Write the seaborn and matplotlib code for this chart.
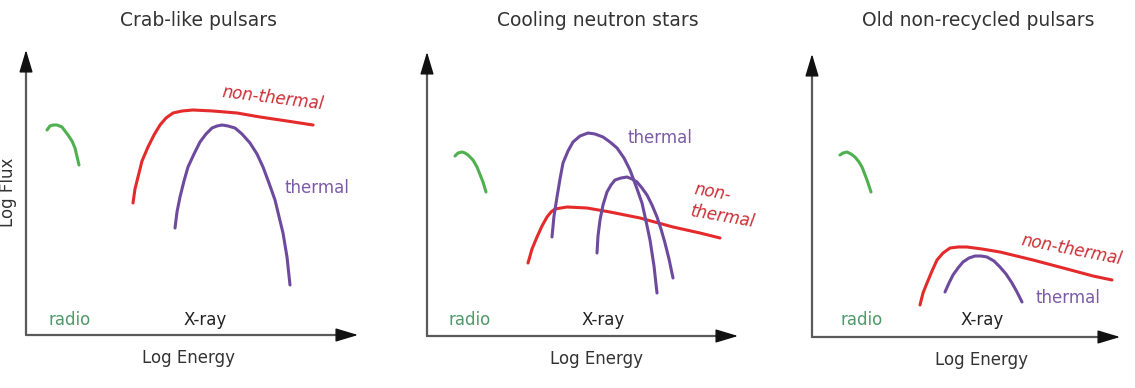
import matplotlib
matplotlib.use("Agg")
import matplotlib.pyplot as plt
import seaborn as sns

sns.set_style("white")
plt.rcParams['font.family'] = ['DejaVu Sans']

# curve points, in pixel units measured from each panel's axis origin
green1_x = [21, 24, 27, 31, 36, 42, 46, 49, 53]
green1_y = [205, 209, 210, 210, 208, 200, 194, 187, 170]
red1_x = [107, 109, 112, 116, 122, 128, 134, 140, 147, 156, 167, 187, 211, 234, 261, 287]
red1_y = [132, 146, 158, 174, 188, 200, 210, 217, 222, 224, 225, 224, 222, 218, 214, 210]
purple1_x = [149, 151, 154, 158, 162, 168, 174, 180, 186, 191, 196, 202, 209, 216, 224, 231, 237, 243, 249, 257, 261, 264]
purple1_y = [107, 123, 138, 154, 168, 181, 193, 201, 207, 209, 210, 209, 207, 201, 192, 181, 168, 152, 135, 102, 78, 50]

green2_x = [28, 31, 35, 38, 41, 46, 50, 56, 59]
green2_y = [180, 183, 184, 183, 181, 176, 169, 154, 144]
red2_x = [101, 105, 110, 115, 120, 124, 128, 134, 140, 160, 183, 213, 246, 273, 293]
red2_y = [73, 87, 99, 110, 119, 124, 127, 128, 129, 128, 124, 118, 109, 103, 98]
purple2a_x = [125, 127, 130, 133, 136, 141, 146, 153, 161, 168, 176, 183, 190, 197, 203, 209, 215, 219, 223, 227, 230]
purple2a_y = [99, 120, 139, 157, 173, 185, 194, 200, 203, 202, 199, 194, 188, 178, 166, 150, 133, 115, 96, 70, 43]
purple2b_x = [170, 171, 173, 176, 180, 184, 188, 194, 200, 205, 210, 215, 220, 225, 230, 234, 238, 242, 246]
purple2b_y = [83, 100, 116, 131, 144, 151, 156, 158, 159, 157, 154, 148, 141, 131, 119, 107, 93, 77, 58]

green3_x = [28, 31, 35, 39, 43, 47, 50, 55, 59]
green3_y = [182, 184, 185, 183, 180, 175, 170, 157, 145]
red3_x = [108, 111, 115, 120, 125, 131, 138, 146, 155, 170, 188, 221, 255, 281, 300]
red3_y = [32, 44, 54, 66, 77, 84, 89, 90, 90, 88, 85, 77, 68, 61, 57]
purple3_x = [133, 137, 141, 146, 151, 157, 163, 169, 175, 182, 188, 194, 200, 205, 210]
purple3_y = [45, 54, 62, 69, 75, 79, 81, 81, 80, 76, 70, 63, 54, 45, 35]

titles = ["Crab-like pulsars", "Cooling neutron stars", "Old non-recycled pulsars"]

RED = "#e42a2a"
PURPLE = "#6e4a9e"
GREEN = "#4fb050"
TXT_RED = "#cc2f36"
TXT_PURPLE = "#7d5aa8"
TXT_GREEN = "#4e9a68"
AXC = "#5a5a5a"

W, H = 1135, 388
fig = plt.figure(figsize=(W / 100, H / 100), dpi=100)

# panel boxes in pixels: origin x, origin y (from top), arrow length x, arrow length y
boxes = [(26, 335, 332, 285), (427, 336, 311, 284), (812, 337, 308, 283)]
axes = []
for ox, oy, w, h in boxes:
    ax = fig.add_axes([ox / W, (H - oy) / H, w / W, h / H])
    ax.set_xlim(0, w)
    ax.set_ylim(0, h)
    ax.axis("off")
    line = dict(arrowstyle="-", color=AXC, lw=1.6, shrinkA=0, shrinkB=0)
    head = dict(arrowstyle="-|>,head_length=1.0,head_width=0.3", color="#111111",
                lw=1.0, shrinkA=0, shrinkB=0, mutation_scale=14)
    ax.annotate("", xy=(0.985, 0), xytext=(0, 0), xycoords="axes fraction",
                arrowprops=line, annotation_clip=False)
    ax.annotate("", xy=(0, 0.985), xytext=(0, 0), xycoords="axes fraction",
                arrowprops=line, annotation_clip=False)
    ax.annotate("", xy=(1, 0), xytext=(0.95, 0), xycoords="axes fraction",
                arrowprops=head, annotation_clip=False)
    ax.annotate("", xy=(0, 1), xytext=(0, 0.95), xycoords="axes fraction",
                arrowprops=head, annotation_clip=False)
    axes.append(ax)

curves = [
    (0, green1_x, green1_y, GREEN), (0, red1_x, red1_y, RED), (0, purple1_x, purple1_y, PURPLE),
    (1, green2_x, green2_y, GREEN), (1, red2_x, red2_y, RED),
    (1, purple2a_x, purple2a_y, PURPLE), (1, purple2b_x, purple2b_y, PURPLE),
    (2, green3_x, green3_y, GREEN), (2, red3_x, red3_y, RED), (2, purple3_x, purple3_y, PURPLE),
]
for i, xs, ys, c in curves:
    sns.lineplot(x=xs, y=ys, ax=axes[i], color=c, lw=2.2, sort=False,
                 estimator=None, solid_capstyle="round", solid_joinstyle="round")
    axes[i].axis("off")

# titles
for t, cx in zip(titles, [198, 598, 978]):
    fig.text(cx / W, 1 - 20 / H, t, ha="center", va="center", fontsize=13.5, color="#333333")

# axis labels
fs = 12
for ax, cx in zip(axes, [162, 170, 170]):
    ax.text(cx, -23, "Log Energy", ha="center", va="center", fontsize=fs, color="#333333")
axes[0].text(-18, 143, "Log Flux", ha="center", va="center", rotation=90, fontsize=fs, color="#333333")

# band labels
for ax, rx, xx, yy in zip(axes, [44, 43, 50], [179, 176, 170], [15, 16, 17]):
    ax.text(rx, yy, "radio", ha="center", va="center", fontsize=fs, color=TXT_GREEN)
    ax.text(xx, yy, "X-ray", ha="center", va="center", fontsize=fs, color="#222222")

# curve labels
axes[0].text(247, 237, "non-thermal", ha="center", va="center", rotation=-7,
             fontsize=fs, color=TXT_RED, style="italic")
axes[0].text(291, 147, "thermal", ha="center", va="center", fontsize=fs, color=TXT_PURPLE)
axes[1].text(233, 198, "thermal", ha="center", va="center", fontsize=fs, color=TXT_PURPLE)
axes[1].text(286, 144, "non-", ha="center", va="center", rotation=-10,
             fontsize=fs, color=TXT_RED, style="italic")
axes[1].text(296, 119, "thermal", ha="center", va="center", rotation=-10,
             fontsize=fs, color=TXT_RED, style="italic")
axes[2].text(260, 87, "non-thermal", ha="center", va="center", rotation=-11,
             fontsize=fs, color=TXT_RED, style="italic")
axes[2].text(256, 39, "thermal", ha="center", va="center", fontsize=fs, color=TXT_PURPLE)

fig.savefig("out.png", dpi=100)
